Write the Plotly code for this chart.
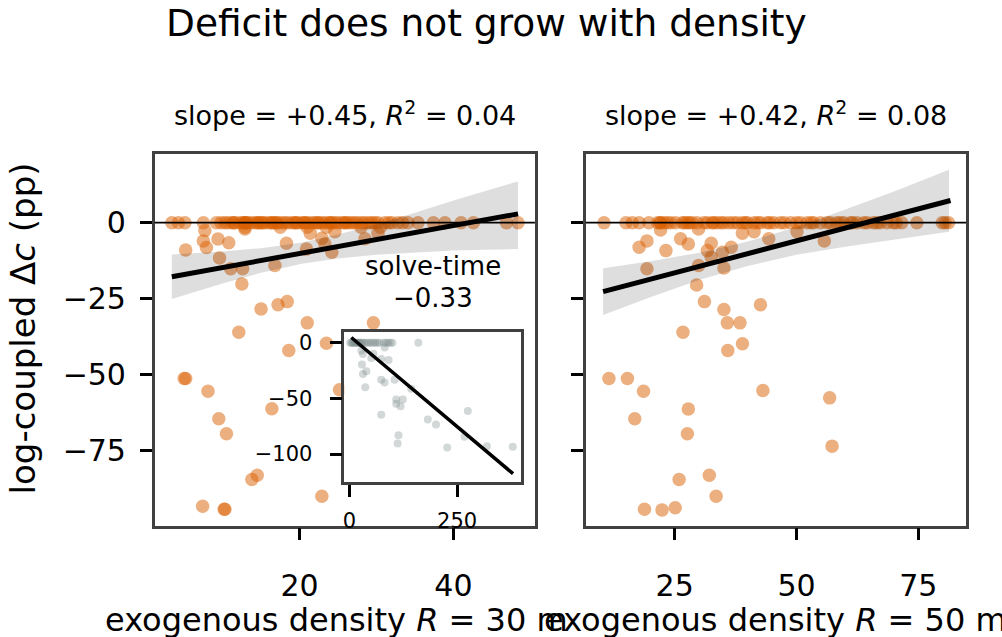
import plotly.graph_objects as go

# ---------------- data ----------------
# Left panel: R = 30 m
left_x = [3.4, 4.25, 5.1, 7.5, 9.2, 9.8, 10.3, 10.7, 11.2, 11.55, 12.2, 12.6, 12.9, 13.3, 13.7, 14.2,
          14.6, 15.0, 15.5, 16.0, 16.4, 16.8, 17.2, 17.7, 18.1, 18.5, 19.0, 19.4, 19.8, 20.3, 20.7,
          21.1, 21.6, 22.0, 22.4, 22.9, 23.3, 23.8, 24.2, 24.6, 25.0, 25.5, 25.9, 26.4, 26.8, 27.2,
          27.6, 28.1, 28.5, 29.0, 29.4, 29.8, 30.2, 31.1, 31.6, 32.0, 32.8, 33.4, 34.1, 35.4, 37.4,
          38.9, 41.0, 42.6, 46.9, 48.4,
          12.9, 14.6, 16.4, 20.7, 22.4, 11.5, 13.0, 15.2, 17.0, 19.5, 24.0, 26.0,
          12.9, 17.5, 21.0, 23.5, 28.0, 30.5,
          7.7, 9.4, 10.8, 5.2, 7.5, 7.9, 9.6, 11.05, 12.6, 12.5, 16.8, 18.3, 20.9, 22.9, 23.3, 24.2,
          21.4, 24.6, 28.5, 30.2, 12.9,
          15.0, 17.2, 18.4, 12.1, 21.0, 18.6, 23.5, 29.6, 5.0, 5.2, 8.1, 16.4, 25.2, 9.5, 10.5,
          14.5, 13.8, 7.4, 10.2, 10.3, 22.9]
left_y = [0] * 66 + \
         [0] * 12 + \
         [-1.5, -1.5, -1.5, -1.5, -1.5, -1.5] + \
         [-2.6, -5.4, -6.6, -9.0, -6.0, -8.2, -11.6, -15.2, -15.2, -20.2, -14.1, -6.8, -8.7, -5.1,
          -7.0, -9.7, -3.5, -3.0, -5.3, -3.5, -2.1,
          -28.4, -27.0, -26.0, -36.1, -33.0, -42.1, -39.7, -33.0, -51.3, -51.3, -55.5, -61.3, -55.0,
          -64.6, -69.5, -83.2, -84.6, -93.4, -94.4, -94.4, -90.1]

left_fit_x = [3.4, 48.4]
left_fit_y = [-17.8, 2.9]
left_band_x = [3.4, 10, 15, 20.3, 25, 30, 35, 40, 48.4]
left_band_lo = [-25.1, -20.0, -16.5, -13.5, -11.8, -10.6, -9.8, -9.2, -8.7]
left_band_hi = [-10.5, -9.5, -8.4, -6.5, -3.9, -0.5, 3.3, 7.3, 13.6]

# Right panel: R = 50 m
right_x = [10.5, 15.0, 16.3, 17.7, 19.7, 21.5, 22.1, 22.8, 24.2, 25.2, 26.6, 27.6, 28.6, 29.6, 31.7,
           32.7, 33.7, 35.1, 36.1, 37.8, 38.9, 39.9, 41.3, 42.6, 44.0, 45.3, 46.7, 48.8, 50.8, 52.2,
           53.5, 54.9, 56.3, 58.3, 59.7, 61.1, 62.4, 63.8, 65.8, 67.2, 68.6, 69.9, 71.6, 74.7, 79.9,
           81.2,
           22.0, 23.5, 27.0, 28.0, 31.0, 33.0, 34.5, 37.0, 39.5, 42.0, 44.5, 47.5, 50.0, 53.0, 57.0,
           59.0, 61.5, 64.5, 66.5, 70.5, 80.5,
           22.1, 29.9, 38.9, 41.3, 44.3, 50.1, 55.7, 19.3, 17.7, 23.2, 26.2, 27.8, 32.5, 31.7, 34.8,
           36.6, 32.5, 19.3, 29.9, 35.1,
           29.5, 31.1, 35.1, 35.8, 38.4, 42.6, 26.7, 38.9, 35.9, 11.5, 15.3, 18.6, 43.1, 56.8, 27.8,
           16.8, 27.6, 57.3, 25.9, 32.1, 33.5, 18.8, 22.4, 25.1]
right_y = [0] * 46 + [0] * 21 + \
          [-2.4, -2.1, -3.5, -3.0, -5.3, -3.0, -6.0, -6.0, -8.1, -9.2, -5.3, -7.0, -6.8, -9.2, -9.7,
           -8.1, -11.4, -15.2, -14.1, -14.9,
           -20.5, -26.0, -28.6, -33.0, -33.0, -27.0, -36.1, -39.9, -42.1, -51.3, -51.3, -55.5, -55.3,
           -57.7, -61.4, -64.6, -69.5, -73.6, -84.6, -83.2, -90.1, -94.4, -94.6, -93.9]

right_fit_x = [10.3, 81.6]
right_fit_y = [-22.7, 7.3]
right_band_x = [10.3, 20, 30, 39.6, 50, 60, 70, 81.3]
right_band_lo = [-30.4, -24.6, -18.9, -14.4, -10.6, -7.9, -5.5, -3.0]
right_band_hi = [-15.0, -12.7, -9.9, -6.4, -1.4, 4.3, 10.3, 17.4]

# Inset: solve-time vs log-coupled delta c
inset_x = [2, 5, 8, 10, 12, 15, 18, 20, 22, 25, 28, 30, 35, 40, 45, 50, 55, 60, 65, 70, 80, 85, 90,
           95, 100, 160, 82, 56, 28,
           31.6, 29.3, 39.4, 31.6, 37.0, 74.0, 81.8, 91.0, 74.0, 51.0, 105.0, 108.8, 124.0, 118.8,
           108.8, 74.0, 143.5, 182.0, 201.0, 274.7, 267.0, 319.0, 379.0, 227.0, 114.0, 112.0]
inset_y = [0] * 25 + [0, -4.2, -10.0, -7.0,
           -10.1, -19.6, -25.6, -28.0, -39.9, -33.3, -35.7, -15.5, -14.6, -13.7, -33.3, -50.9, -50.9,
           -57.0, -54.8, -64.6, -41.4, -69.0, -73.5, -61.3, -84.5, -92.9, -93.5, -94.0, -83.0, -90.5]
inset_fit_x = [4.6, 379.6]
inset_fit_y = [4.7, -117.6]

title_text = "Deficit does not grow with density"
left_title = "slope = +0.45, <i>R</i><sup>2</sup> = 0.04"
right_title = "slope = +0.42, <i>R</i><sup>2</sup> = 0.08"
left_xlabel = "exogenous density <i>R</i> = 30 m"
right_xlabel = "exogenous density <i>R</i> = 50 m"
ylabel = "log-coupled Δ<i>c</i> (pp)"
inset_label = ["solve-time", "−0.33"]

y_ticks = [0, -25, -50, -75]
left_xticks = [20, 40]
right_xticks = [25, 50, 75]
inset_xticks = [0, 250]
inset_yticks = [0, -50, -100]

# ---------------- styling ----------------
W, H = 1002, 637
FONT = "DejaVu Sans"
ORANGE = "#d95f02"
GRAY = "#7f8c8d"
SPINE = "#404040"


def fx(px):
    return px / W


def fy(py):
    return 1 - py / H


def lab(v):
    return str(v).replace("-", "−")


fig = go.Figure()

# left panel
fig.add_trace(go.Scatter(x=left_x, y=left_y, mode="markers", xaxis="x", yaxis="y",
                         marker=dict(size=13.5, color=ORANGE, opacity=0.5, line=dict(width=0)),
                         showlegend=False, hoverinfo="skip"))
fig.add_trace(go.Scatter(x=left_band_x + left_band_x[::-1], y=left_band_hi + left_band_lo[::-1],
                         fill="toself", fillcolor="rgba(0,0,0,0.13)", line=dict(width=0),
                         mode="lines", xaxis="x", yaxis="y", showlegend=False, hoverinfo="skip"))
fig.add_trace(go.Scatter(x=left_fit_x, y=left_fit_y, mode="lines", xaxis="x", yaxis="y",
                         line=dict(color="black", width=5), showlegend=False))

# right panel
fig.add_trace(go.Scatter(x=right_x, y=right_y, mode="markers", xaxis="x2", yaxis="y2",
                         marker=dict(size=13.5, color=ORANGE, opacity=0.5, line=dict(width=0)),
                         showlegend=False, hoverinfo="skip"))
fig.add_trace(go.Scatter(x=right_band_x + right_band_x[::-1], y=right_band_hi + right_band_lo[::-1],
                         fill="toself", fillcolor="rgba(0,0,0,0.13)", line=dict(width=0),
                         mode="lines", xaxis="x2", yaxis="y2", showlegend=False, hoverinfo="skip"))
fig.add_trace(go.Scatter(x=right_fit_x, y=right_fit_y, mode="lines", xaxis="x2", yaxis="y2",
                         line=dict(color="black", width=5), showlegend=False))

# inset
fig.add_trace(go.Scatter(x=inset_x, y=inset_y, mode="markers", xaxis="x3", yaxis="y3",
                         marker=dict(size=8, color=GRAY, opacity=0.35, line=dict(width=0)),
                         showlegend=False, hoverinfo="skip"))
fig.add_trace(go.Scatter(x=inset_fit_x, y=inset_fit_y, mode="lines", xaxis="x3", yaxis="y3",
                         line=dict(color="black", width=3.5), showlegend=False))

axis_common = dict(showgrid=False, zeroline=False, showline=True, mirror=True,
                   linecolor=SPINE, linewidth=2.5, ticks="outside", ticklen=12, tickwidth=2.5,
                   tickcolor="black", tickfont=dict(family=FONT, size=30, color="black"))
inset_font = dict(family=FONT, size=21, color="black")

fig.update_layout(
    width=W, height=H, margin=dict(l=0, r=0, t=0, b=0),
    paper_bgcolor="white", plot_bgcolor="white", showlegend=False,
    xaxis=dict(domain=[fx(153), fx(534)], range=[1.17, 50.6], anchor="y", ticklabelstandoff=20,
               tickvals=left_xticks, ticktext=[lab(v) for v in left_xticks], **axis_common),
    yaxis=dict(domain=[fy(525.5), fy(153)], range=[-99.8, 22.7], anchor="x", ticklabelstandoff=8,
               tickvals=y_ticks, ticktext=[lab(v) for v in y_ticks], **axis_common),
    xaxis2=dict(domain=[fx(585), fx(966)], range=[6.76, 84.8], anchor="y2", ticklabelstandoff=20,
                tickvals=right_xticks, ticktext=[lab(v) for v in right_xticks], **axis_common),
    yaxis2=dict(domain=[fy(525.5), fy(153)], range=[-99.8, 22.7], anchor="x2",
                tickvals=y_ticks, showticklabels=False, **axis_common),
    xaxis3=dict(domain=[fx(343), fx(520)], range=[-11.6, 398], anchor="y3", ticklabelstandoff=6,
                tickvals=inset_xticks, ticktext=[lab(v) for v in inset_xticks],
                **{**axis_common, "tickfont": inset_font}),
    yaxis3=dict(domain=[fy(482), fy(332)], range=[-125.3, 9.2], anchor="x3", ticklabelstandoff=13,
                tickvals=inset_yticks, ticktext=[lab(v) for v in inset_yticks],
                **{**axis_common, "tickfont": inset_font}),
)

# zero reference lines
for xr, yr in (("x", "y"), ("x2", "y2")):
    fig.add_shape(type="line", xref=f"{xr} domain", yref=yr, x0=0, x1=1, y0=0, y1=0,
                  line=dict(color="black", width=1.7), layer="above")


def ann(text, x, y, size, angle=0):
    fig.add_annotation(text=text, x=x, y=y, xref="paper", yref="paper", showarrow=False,
                       xanchor="center", yanchor="middle", textangle=angle,
                       font=dict(family=FONT, size=size, color="black"))


ann(title_text, fx(485), fy(22), 37.5)
ann(left_title, fx(344), fy(113), 27)
ann(right_title, fx(775.5), fy(113), 27)
ann(left_xlabel, fx(335), fy(620), 32)
ann(right_xlabel, fx(775.5), fy(620), 32)
ann(ylabel, fx(22), fy(328), 34, angle=-90)
ann(inset_label[0], fx(432), fy(265), 26)
ann(inset_label[1], fx(432), fy(297), 26)

fig.write_html("out.html")
